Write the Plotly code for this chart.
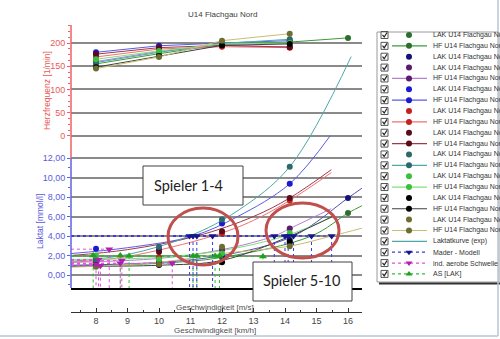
import plotly.graph_objects as go

W, H = 500, 339
def PX(x): return x / W
def PY(y): return 1 - y / H

# ---------------- data ----------------
speeds = [8, 10, 12, 14.15, 16]
km_ticks = [8, 9, 10, 11, 12, 13, 14, 15, 16]
hr_ticks = [0, 50, 100, 150, 200]
lac_ticks = [0, 2, 4, 6, 8, 10, 12]
lac_labels = ["0,00", "2,00", "4,00", "6,00", "8,00", "10,00", "12,00"]

players = ["dkgreen", "navy", "purple", "blue", "red", "maroon", "teal", "lgreen", "black", "olive"]

lak_dkgreen = [1.2, 1.26, 1.8, 3.2, 6.35]
lak_navy = [1.1, 1.26, 2.0, 3.6, 7.9]
lak_purple = [1.6, 1.6, 2.6, 4.76, None]
lak_blue = [2.68, 2.6, 5.27, 9.36, None]
lak_red = [1.4, 1.8, 4.25, 7.65, None]
lak_maroon = [1.3, 2.35, 4.5, 7.9, None]
lak_teal = [1.5, 2.9, 5.7, 11.1, None]
lak_lgreen = [2.0, 1.6, 2.2, 4.3, None]
lak_black = [1.0, 1.02, 1.3, 3.4, None]
lak_olive = [0.85, 1.1, 2.89, 2.96, None]

hf_dkgreen = [155, 177, 197, 202, 211]
hf_purple = [160, 182, 194, 192, None]
hf_blue = [180, 194, 200, 205, None]
hf_red = [170, 187, 192, 190, None]
hf_maroon = [176, 190, 195, 191, None]
hf_teal = [158, 180, 199, 208, None]
hf_lgreen = [165, 183, 198, 200, None]
hf_black = [148, 172, 195, 198, None]
hf_olive = [145, 170, 205, 220, None]

# exponential lactate curves
cx_dkgreen = [7.21, 10, 12, 14.84, 16, 16.44]; cy_dkgreen = [0.9, 1.2, 1.8, 4.0, 6.35, 7.1]
cx_navy = [7.21, 10, 12, 14.27, 16, 16.44];    cy_navy = [1.0, 1.3, 2.0, 4.0, 7.9, 8.9]
cx_purple = [7.21, 10, 12, 13.66, 14.15, 15.47]; cy_purple = [1.3, 1.7, 2.6, 4.0, 4.76, 6.8]
cx_blue = [7.21, 9, 11.08, 12.5, 14.15, 15.44]; cy_blue = [2.2, 2.8, 4.0, 6.0, 9.36, 14.3]
cx_red = [7.21, 9, 11.7, 13, 14.15, 15.47];     cy_red = [1.3, 1.9, 4.0, 5.6, 7.65, 10.5]
cx_maroon = [7.21, 9, 11.2, 13, 14.15, 15.47];  cy_maroon = [2.0, 2.6, 4.0, 6.0, 7.9, 10.8]
cx_teal = [7.21, 9, 10.97, 12.5, 14.15, 16.1];  cy_teal = [1.4, 2.1, 4.0, 6.6, 11.1, 22.4]
cx_lgreen = [7.21, 10, 12, 14.0, 15.47];        cy_lgreen = [1.6, 1.8, 2.5, 4.0, 5.9]
cx_black = [7.21, 10, 12, 14.1, 15.5];          cy_black = [0.9, 1.0, 1.5, 3.9, 6.0]
cx_olive = [7.21, 10, 12, 14.15, 15.48, 16.44]; cy_olive = [0.8, 1.3, 2.2, 2.96, 4.0, 4.8]

mader_speed = [10.97, 11.08, 11.2, 11.7, 13.66, 14.0, 14.1, 14.27, 14.84, 15.48]
mader_lak = [4.0, 4.0, 4.0, 4.0, 4.0, 4.0, 4.0, 4.0, 4.0, 4.0]
ias_speed = [8.42, 8.0, 8.14, 8.77, 8.82, 10.42, 8.08]
ias_lak = [2.65, 1.1, 0.95, 1.2, 1.5, 1.2, 1.6]
as_speed = [7.91, 8.77, 9.05, 11.08, 11.2, 11.78, 11.92, 13.3]
as_lak = [2.0, 2.0, 1.95, 1.95, 1.95, 1.95, 1.95, 1.9]

legend_rows = ["LAK U14 Flachgau Nord", "HF U14 Flachgau Nord", "LAK U14 Flachgau Nord",
               "LAK U14 Flachgau Nord", "HF U14 Flachgau Nord", "LAK U14 Flachgau Nord",
               "HF U14 Flachgau Nord", "LAK U14 Flachgau Nord", "HF U14 Flachgau Nord",
               "LAK U14 Flachgau Nord", "HF U14 Flachgau Nord", "LAK U14 Flachgau Nord",
               "HF U14 Flachgau Nord", "LAK U14 Flachgau Nord", "HF U14 Flachgau Nord",
               "LAK U14 Flachgau Nord", "HF U14 Flachgau Nord", "LAK U14 Flachgau Nord",
               "HF U14 Flachgau Nord", "Laktatkurve (exp)", "Mader - Modell",
               "ind. aerobe Schwelle", "AS [LAK]"]

# ---------------- styles ----------------
dot_col = {"dkgreen": "#2d6e2d", "navy": "#12127a", "purple": "#5c1a6e", "blue": "#1a1ad0",
           "red": "#c42020", "maroon": "#5a0a18", "teal": "#2a6a6a", "lgreen": "#3cc03c",
           "black": "#000000", "olive": "#6e6e30"}
line_col = {"dkgreen": "#3c9a3c", "navy": "#5050b8", "purple": "#b77fd0", "blue": "#5a5ae6",
            "red": "#f07070", "maroon": "#a03a4a", "teal": "#4fa8a8", "lgreen": "#80e080",
            "black": "#404040", "olive": "#c8bd70"}

lak = dict(dkgreen=lak_dkgreen, navy=lak_navy, purple=lak_purple, blue=lak_blue, red=lak_red,
           maroon=lak_maroon, teal=lak_teal, lgreen=lak_lgreen, black=lak_black, olive=lak_olive)
hf = dict(dkgreen=hf_dkgreen, purple=hf_purple, blue=hf_blue, red=hf_red, maroon=hf_maroon,
          teal=hf_teal, lgreen=hf_lgreen, black=hf_black, olive=hf_olive)
cur = dict(dkgreen=(cx_dkgreen, cy_dkgreen), navy=(cx_navy, cy_navy), purple=(cx_purple, cy_purple),
           blue=(cx_blue, cy_blue), red=(cx_red, cy_red), maroon=(cx_maroon, cy_maroon),
           teal=(cx_teal, cy_teal), lgreen=(cx_lgreen, cy_lgreen), black=(cx_black, cy_black),
           olive=(cx_olive, cy_olive))

XMIN, XMAX = 7.206, 16.444
LMIN, LMAX = -1.333, 25.64
HMIN, HMAX = -326.9, 238.7

C_MADER_L, C_MADER_M = "#3a3ae0", "#16168c"
C_IAS_L, C_IAS_M = "#e050e0", "#b020b0"
C_AS_L, C_AS_M = "#30c030", "#20a020"

fig = go.Figure()

# lactate curves
for p in players:
    x, y = cur[p]
    fig.add_trace(go.Scatter(x=x, y=y, mode="lines", xaxis="x", yaxis="y",
                             line=dict(color=line_col[p], width=1, shape="spline"),
                             hoverinfo="skip"))

# threshold guide lines
def guides(sx, sy, col):
    hx, hy, vx, vy = [], [], [], []
    for a, b in zip(sx, sy):
        hx += [XMIN, a, None]; hy += [b, b, None]
        vx += [a, a, None]; vy += [b, LMIN, None]
    fig.add_trace(go.Scatter(x=hx + vx, y=hy + vy, mode="lines", xaxis="x", yaxis="y",
                             line=dict(color=col, width=1, dash="dot"), hoverinfo="skip"))

guides(as_speed, as_lak, C_AS_L)
guides(ias_speed, ias_lak, C_IAS_L)
guides(mader_speed, mader_lak, C_MADER_L)

# heart rate
for p in players:
    if p in hf:
        fig.add_trace(go.Scatter(x=speeds, y=hf[p], mode="lines+markers", xaxis="x", yaxis="y2",
                                 line=dict(color=line_col[p], width=1),
                                 marker=dict(color=dot_col[p], size=6), connectgaps=False))

# lactate points
for p in players:
    fig.add_trace(go.Scatter(x=speeds, y=lak[p], mode="markers", xaxis="x", yaxis="y",
                             marker=dict(color=dot_col[p], size=6)))

# threshold markers
fig.add_trace(go.Scatter(x=as_speed, y=as_lak, mode="markers", xaxis="x", yaxis="y",
                         marker=dict(symbol="triangle-up", color=C_AS_M, size=7)))
fig.add_trace(go.Scatter(x=ias_speed, y=ias_lak, mode="markers", xaxis="x", yaxis="y",
                         marker=dict(symbol="triangle-down", color=C_IAS_M, size=7)))
fig.add_trace(go.Scatter(x=mader_speed, y=mader_lak, mode="markers", xaxis="x", yaxis="y",
                         marker=dict(symbol="triangle-down", color=C_MADER_M, size=7)))

# dummy trace for the km/h axis
fig.add_trace(go.Scatter(x=[XMIN], y=[LMIN], xaxis="x2", yaxis="y", mode="markers",
                         marker=dict(opacity=0), hoverinfo="skip"))

# ---------------- custom legend ----------------
shapes = []
annotations = []
shapes.append(dict(type="rect", xref="paper", yref="paper", x0=PX(377), x1=PX(499), y0=PY(282), y1=PY(32),
                   fillcolor="white", line=dict(color="#9a9a9a", width=1), layer="below"))
shapes.append(dict(type="line", xref="paper", yref="paper", x0=PX(379), x1=PX(500), y0=PY(283.5), y1=PY(283.5),
                   line=dict(color="#303030", width=2)))

leg_marker = ([("circle", dot_col[p]) for p in ["dkgreen", "dkgreen", "navy", "purple", "purple", "blue", "blue",
                                                 "red", "red", "maroon", "maroon", "teal", "teal",
                                                 "lgreen", "lgreen", "black", "black", "olive", "olive"]]
              + [None, ("triangle-down", C_MADER_M), ("triangle-down", C_IAS_M), ("triangle-up", C_AS_M)])
leg_line = ([None, line_col["dkgreen"], None, None, line_col["purple"], None, line_col["blue"], None,
             line_col["red"], None, line_col["maroon"], None, line_col["teal"], None, line_col["lgreen"],
             None, line_col["black"], None, line_col["olive"]]
            + [(line_col["teal"], "solid"), (C_MADER_L, "dot"), (C_IAS_L, "dot"), (C_AS_L, "dot")])

for i, name in enumerate(legend_rows):
    ry = 35 + i * 10.86
    shapes.append(dict(type="rect", xref="paper", yref="paper", x0=PX(381), x1=PX(388),
                       y0=PY(ry + 3.5), y1=PY(ry - 3.5), line=dict(color="#555555", width=1)))
    fig.add_trace(go.Scatter(x=[382.5, 384.2, 387], y=[ry - 0.2, ry + 2, ry - 2.5], mode="lines",
                             xaxis="x3", yaxis="y3", line=dict(color="#222222", width=1.2), hoverinfo="skip"))
    ln = leg_line[i]
    if ln is not None:
        if isinstance(ln, tuple):
            col, dash = ln
        else:
            col, dash = ln, "solid"
        fig.add_trace(go.Scatter(x=[392, 427], y=[ry, ry], mode="lines", xaxis="x3", yaxis="y3",
                                 line=dict(color=col, width=1.2, dash=dash), hoverinfo="skip"))
    mk = leg_marker[i]
    if mk is not None:
        fig.add_trace(go.Scatter(x=[409], y=[ry], mode="markers", xaxis="x3", yaxis="y3",
                                 marker=dict(symbol=mk[0], color=mk[1], size=6), hoverinfo="skip"))
    annotations.append(dict(text=name, xref="paper", yref="paper", x=PX(431), y=PY(ry),
                            xanchor="left", yanchor="middle", showarrow=False,
                            font=dict(family="Liberation Sans", size=7, color="#333333")))

# ---------------- decorations ----------------
# axis lines (red for HR, blue for lactate)
shapes.append(dict(type="line", xref="paper", yref="paper", x0=PX(71), x1=PX(71), y0=PY(158), y1=PY(25),
                   line=dict(color="#f06060", width=1.5)))
shapes.append(dict(type="line", xref="paper", yref="paper", x0=PX(71), x1=PX(71), y0=PY(288), y1=PY(158),
                   line=dict(color="#6060e0", width=1.5)))
# text boxes
shapes.append(dict(type="rect", xref="paper", yref="paper", x0=PX(143), x1=PX(243), y0=PY(205), y1=PY(166),
                   fillcolor="white", line=dict(color="#404040", width=1)))
shapes.append(dict(type="rect", xref="paper", yref="paper", x0=PX(253), x1=PX(352), y0=PY(301), y1=PY(262),
                   fillcolor="white", line=dict(color="#404040", width=1)))
# ellipses
shapes.append(dict(type="circle", xref="paper", yref="paper", x0=PX(168), x1=PX(238), y0=PY(265), y1=PY(208),
                   line=dict(color="#c0504d", width=3)))
shapes.append(dict(type="circle", xref="paper", yref="paper", x0=PX(266), x1=PX(339), y0=PY(258), y1=PY(203),
                   line=dict(color="#c0504d", width=3)))
# window frame
shapes.append(dict(type="line", xref="paper", yref="paper", x0=0, x1=PX(498), y0=PY(336), y1=PY(336),
                   line=dict(color="#b9c6d3", width=1.5)))
shapes.append(dict(type="line", xref="paper", yref="paper", x0=PX(498), x1=PX(498), y0=PY(336), y1=1,
                   line=dict(color="#b9c6d3", width=1.5)))

FONT = "Liberation Sans"
annotations += [
    dict(text="U14 Flachgau Nord", x=PX(186), y=PY(15), xanchor="left", yanchor="middle",
         font=dict(family=FONT, size=8, color="#404040")),
    dict(text="Herzfrequenz [1/min]", x=PX(47), y=PY(91), textangle=-90, xanchor="center", yanchor="middle",
         font=dict(family=FONT, size=8.5, color="#e85a5a")),
    dict(text="Laktat [mmol/l]", x=PX(40), y=PY(222), textangle=-90, xanchor="center", yanchor="middle",
         font=dict(family=FONT, size=8.5, color="#5a5ae0")),
    dict(text="Geschwindigkeit [m/s]", x=PX(215), y=PY(307), xanchor="center", yanchor="middle",
         font=dict(family=FONT, size=8, color="#505050")),
    dict(text="Geschwindigkeit [km/h]", x=PX(215), y=PY(330), xanchor="center", yanchor="middle",
         font=dict(family=FONT, size=8, color="#505050")),
    dict(text="Spieler 1-4", x=PX(188), y=PY(185), xanchor="center", yanchor="middle",
         font=dict(family="Lato", size=14.5, color="#222222")),
    dict(text="Spieler 5-10", x=PX(301), y=PY(280), xanchor="center", yanchor="middle",
         font=dict(family="Lato", size=14.5, color="#222222")),
]
for a in annotations:
    a.setdefault("xref", "paper"); a.setdefault("yref", "paper"); a.setdefault("showarrow", False)

GRID = "#8a8a8a"
fig.update_layout(
    width=W, height=H, margin=dict(l=0, r=0, t=0, b=0),
    paper_bgcolor="white", plot_bgcolor="rgba(0,0,0,0)", showlegend=False,
    xaxis=dict(domain=[PX(71), PX(362)], range=[XMIN, XMAX], anchor="y", showline=True,
               linecolor="black", linewidth=2, showticklabels=False, ticks="", showgrid=False,
               zeroline=False),
    xaxis2=dict(overlaying="x", anchor="free", position=PY(312), side="bottom", range=[XMIN, XMAX],
                tickmode="array", tickvals=km_ticks, ticks="inside", ticklen=4, tickcolor="#333333",
                showline=True, linecolor="#333333", linewidth=1, showgrid=False, zeroline=False,
                tickfont=dict(family=FONT, size=9, color="#444444"),
                minor=dict(ticks="inside", ticklen=2, tickcolor="#333333", dtick=0.5, tick0=0)),
    yaxis=dict(domain=[PY(288), PY(25)], range=[LMIN, LMAX], anchor="x", tickmode="array",
               tickvals=lac_ticks, ticktext=lac_labels, ticks="outside", ticklen=3, tickcolor="#6060e0",
               tickfont=dict(family=FONT, size=9, color="#5a5ae0"), showline=False, showgrid=True,
               gridcolor=GRID, gridwidth=2, zeroline=False,
               minor=dict(ticks="outside", ticklen=2, tickcolor="#6060e0", tickmode="array",
                          tickvals=[v * 1.0 for v in range(-1, 13)], showgrid=False)),
    yaxis2=dict(overlaying="y", anchor="x", side="left", range=[HMIN, HMAX], tickmode="array",
                tickvals=hr_ticks, ticks="outside", ticklen=3, tickcolor="#f06060",
                tickfont=dict(family=FONT, size=9, color="#e85a5a"), showline=False, showgrid=True,
                gridcolor=GRID, gridwidth=2, zeroline=False,
                minor=dict(ticks="outside", ticklen=2, tickcolor="#f06060", tickmode="array",
                           tickvals=[k * 12.5 for k in range(0, 20)], showgrid=False)),
    xaxis3=dict(domain=[0, 1], range=[0, W], anchor="y3", visible=False, fixedrange=True),
    yaxis3=dict(domain=[0, 1], range=[H, 0], anchor="x3", visible=False, fixedrange=True),
    shapes=shapes, annotations=annotations,
)

fig.write_html("out.html")
